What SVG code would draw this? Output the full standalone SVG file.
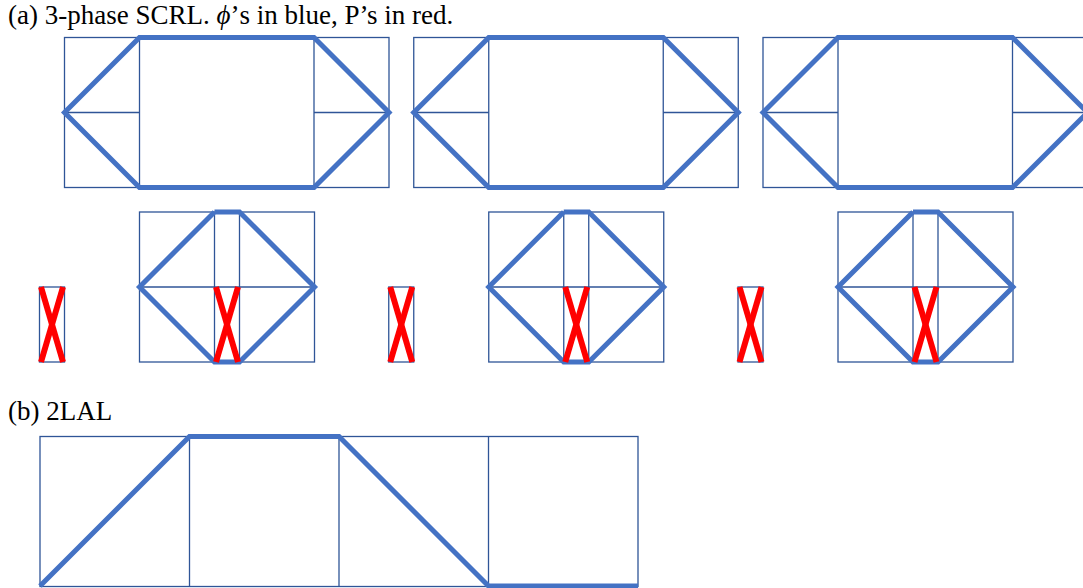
<svg xmlns="http://www.w3.org/2000/svg" width="1083" height="588" viewBox="0 0 1083 588">
<style>
.thin{fill:none;stroke:#2F5597;stroke-width:1.3}
.thick{fill:none;stroke:#4472C4;stroke-width:5;stroke-linejoin:miter;stroke-linecap:butt}
.red{fill:none;stroke:#FF0000;stroke-width:6}
.lbl{font-family:"Liberation Serif","Times New Roman",serif;font-size:27px;fill:#000}
</style>
<defs>
<g id="topblock">
<rect class="thin" x="0" y="0" width="324.5" height="150"/>
<line class="thin" x1="75" y1="0" x2="75" y2="150"/>
<line class="thin" x1="249.5" y1="0" x2="249.5" y2="150"/>
<line class="thin" x1="0" y1="75" x2="75" y2="75"/>
<line class="thin" x1="249.5" y1="75" x2="324.5" y2="75"/>
<polygon class="thick" points="75,0 249.5,0 324.5,75 249.5,150 75,150 0,75"/>
</g>
<g id="botblock">
<rect class="thin" x="0" y="0" width="175" height="150"/>
<line class="thin" x1="75" y1="0" x2="75" y2="150"/>
<line class="thin" x1="100" y1="0" x2="100" y2="150"/>
<line class="thin" x1="0" y1="75" x2="175" y2="75"/>
<polyline class="thick" points="75,0 0,75 75,150 100,150 175,75 100,0 75,0"/>
<line class="red" x1="76.5" y1="75" x2="98.5" y2="150"/>
<line class="red" x1="98.5" y1="75" x2="76.5" y2="150"/>
</g>
<g id="xcell">
<rect class="thin" x="0" y="0" width="25" height="75"/>
<line class="red" x1="1.5" y1="0" x2="23.5" y2="75"/>
<line class="red" x1="23.5" y1="0" x2="1.5" y2="75"/>
</g>
</defs>
<text class="lbl" x="8" y="24">(a) 3-phase SCRL. <tspan font-style="italic">ϕ</tspan>’s in blue, P’s in red.</text>
<g id="top1" transform="translate(64.5,37.5)"><use href="#topblock"/></g>
<g id="top2" transform="translate(413.75,37.5)"><use href="#topblock"/></g>
<g id="top3" transform="translate(763,37.5)"><use href="#topblock"/></g>
<g id="x1" transform="translate(39.5,287)"><use href="#xcell"/></g>
<g id="x2" transform="translate(388.75,287)"><use href="#xcell"/></g>
<g id="x3" transform="translate(738,287)"><use href="#xcell"/></g>
<g id="bot1" transform="translate(139.5,212)"><use href="#botblock"/></g>
<g id="bot2" transform="translate(488.75,212)"><use href="#botblock"/></g>
<g id="bot3" transform="translate(838,212)"><use href="#botblock"/></g>
<text class="lbl" x="8" y="420">(b) 2LAL</text>
<g id="lal">
<rect class="thin" x="40" y="436.5" width="598" height="150"/>
<line class="thin" x1="189.5" y1="436.5" x2="189.5" y2="586.5"/>
<line class="thin" x1="339" y1="436.5" x2="339" y2="586.5"/>
<line class="thin" x1="488.5" y1="436.5" x2="488.5" y2="586.5"/>
</g>
<g id="connectors">
<polyline class="thick" points="40,586 189.5,436.5 339,436.5 488.5,586 638,586"/>
</g>
</svg>
